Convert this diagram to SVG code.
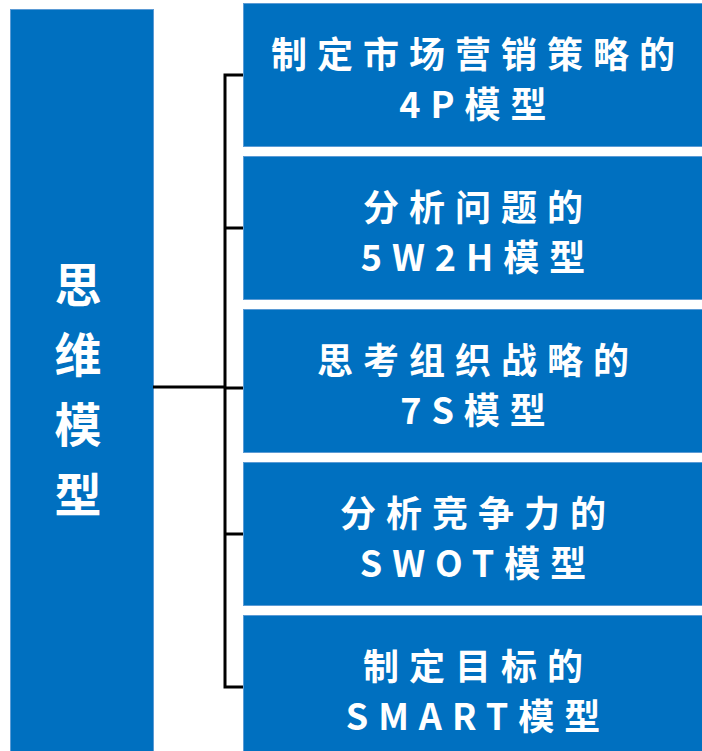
<svg xmlns="http://www.w3.org/2000/svg" width="702" height="751" viewBox="0 0 702 751">
<style>
.box{fill:#0070C0;stroke:#5B9BD5;stroke-width:1}
.t{fill:#FFFFFF;font-family:"Noto Sans CJK SC","Microsoft YaHei",sans-serif;font-weight:bold;font-size:36px;letter-spacing:10px;text-anchor:middle}
.tl{fill:#FFFFFF;font-family:"Noto Sans CJK SC","Microsoft YaHei",sans-serif;font-weight:bold;font-size:47px;text-anchor:middle}
.c{stroke:#000000;stroke-width:3;fill:none}
</style>
<rect width="702" height="751" fill="#FFFFFF"/>
<g id="root">
<rect class="box" x="10.5" y="9.5" width="143" height="745"/>
<text class="tl" x="78" y="302">思</text>
<text class="tl" x="78" y="372">维</text>
<text class="tl" x="78" y="442">模</text>
<text class="tl" x="78" y="512">型</text>
</g>
<g id="connectors">
<path class="c" d="M153,387 H225"/>
<path class="c" d="M244,75 H225 V687 H244"/>
<path class="c" d="M225,228 H244"/>
<path class="c" d="M225,388 H244"/>
<path class="c" d="M225,534 H244"/>
</g>
<g id="n1">
<rect class="box" x="243.5" y="3.5" width="462" height="143"/>
<text class="t" x="478" y="68">制定市场营销策略的</text>
<text class="t" x="478" y="118">4P模型</text>
</g>
<g id="n2">
<rect class="box" x="243.5" y="156.5" width="462" height="143"/>
<text class="t" x="478" y="221">分析问题的</text>
<text class="t" x="478" y="271">5W2H模型</text>
</g>
<g id="n3">
<rect class="box" x="243.5" y="309.5" width="462" height="143"/>
<text class="t" x="478" y="374">思考组织战略的</text>
<text class="t" x="478" y="424">7S模型</text>
</g>
<g id="n4">
<rect class="box" x="243.5" y="462.5" width="462" height="143"/>
<text class="t" x="478" y="527">分析竞争力的</text>
<text class="t" x="478" y="577">SWOT模型</text>
</g>
<g id="n5">
<rect class="box" x="243.5" y="615.5" width="462" height="143"/>
<text class="t" x="478" y="680">制定目标的</text>
<text class="t" x="478" y="730">SMART模型</text>
</g>
</svg>
